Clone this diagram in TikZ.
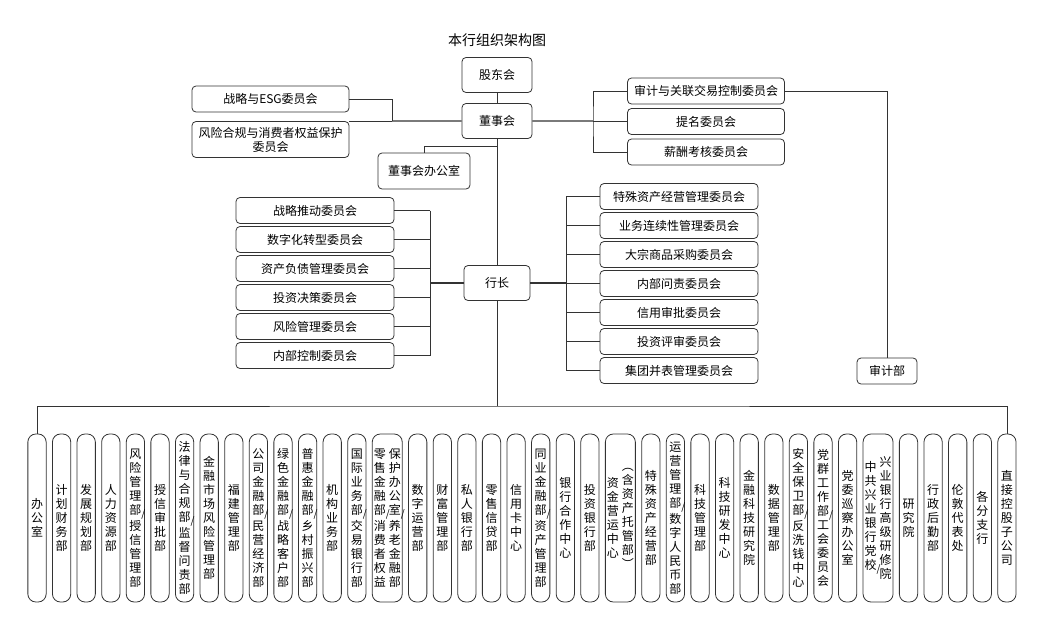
\documentclass[tikz,border=0pt]{standalone}
\usepackage{fontspec}
\newfontfamily\cjk{Noto Sans CJK SC}
\XeTeXlinebreaklocale "zh"
\XeTeXlinebreakskip = 0pt
\usepackage{tikz}
\usetikzlibrary{positioning}
% 竖排文字中的斜线
\newcommand\xg{\rlap{\raisebox{-3pt}{\fontsize{10}{10}\selectfont/}}\hspace{0pt}}

\begin{document}
\begin{tikzpicture}[
    x=1pt, y=-1pt,
    node distance=5.5pt,%部门之间的距离
    box/.style={
        % 外框
        rectangle,
        draw=black!80,
        line width=0.8pt,
        rounded corners=4pt,
        minimum height=26pt,
        inner sep=1pt,
        % 字体
        font=\cjk\fontsize{12}{14}\selectfont},
    dept/.style={box, rounded corners=8pt, minimum width=18.3pt, minimum height=168pt,
        text width=12pt, align=center, inner sep=0pt},
    deptw/.style={dept, text width=28pt, minimum width=30pt},
    link/.style={draw=black!80, line width=0.7pt},
    mainlink/.style={draw=black!80, line width=1.4pt}]
  \useasboundingbox (0,0) rectangle (1044,624);
  % 董事会一层
  \node (title) at (497,40) [font=\cjk\fontsize{14}{16}\selectfont] {本行组织架构图};
  \node (gdh) [box, minimum width=70pt, minimum height=35pt] at (497,75) {股东会};
  \node (dsh) [box, minimum width=70pt, minimum height=35pt, below=10.2pt of gdh] {董事会};
  \node (esg) [box, minimum width=157pt] at (270.5,99) {战略与ESG委员会};
  \node (fxhg) [box, minimum width=157pt, minimum height=36pt, align=center] at (270.5,139.5) {风险合规与消费者权益保护\\委员会};
  \node (dshbgs) [box, minimum width=92pt, minimum height=36pt] at (424,171) {董事会办公室};
  \node (sj) [box, minimum width=157pt] at (706,91) {审计与关联交易控制委员会};
  \node (tm) [box, minimum width=157pt, below=3.7pt of sj] {提名委员会};
  \node (xc) [box, minimum width=157pt, below=3.7pt of tm] {薪酬考核委员会};
  \node (sjb) [box, minimum width=60pt] at (887,371) {审计部};
  % 行长一层
  \node (hz) [box, minimum width=66pt, minimum height=35pt] at (497,283) {行长};
  \node (zltd) [box, minimum width=158pt] at (315,210.5) {战略推动委员会};
  \node (szh) [box, minimum width=158pt, below=2.2pt of zltd] {数字化转型委员会};
  \node (zcfz) [box, minimum width=158pt, below=2.2pt of szh] {资产负债管理委员会};
  \node (tzjc) [box, minimum width=158pt, below=2.2pt of zcfz] {投资决策委员会};
  \node (fxgl) [box, minimum width=158pt, below=2.2pt of tzjc] {风险管理委员会};
  \node (nbkz) [box, minimum width=158pt, below=2.2pt of fxgl] {内部控制委员会};
  \node (tszc) [box, minimum width=158pt] at (679,196.5) {特殊资产经营管理委员会};
  \node (ywlx) [box, minimum width=158pt, below=2.2pt of tszc] {业务连续性管理委员会};
  \node (dzsp) [box, minimum width=158pt, below=2.2pt of ywlx] {大宗商品采购委员会};
  \node (nbwz) [box, minimum width=158pt, below=2.2pt of dzsp] {内部问责委员会};
  \node (xysp) [box, minimum width=158pt, below=2.2pt of nbwz] {信用审批委员会};
  \node (tzps) [box, minimum width=158pt, below=2.2pt of xysp] {投资评审委员会};
  \node (jtbb) [box, minimum width=158pt, below=2.2pt of tzps] {集团并表管理委员会};
  % 部门
  \node (bgs) [dept] at (37,518) {办公室};
  \node (jhcw) [dept, right=of bgs] {计划财务部};
  \node (fzgh) [dept, right=of jhcw] {发展规划部};
  \node (rlzy) [dept, right=of fzgh] {人力资源部};
  \node (fxglb) [dept, right=of rlzy] {风险管理部\xg 授信管理部};
  \node (sxsp) [dept, right=of fxglb] {授信审批部};
  \node (flhg) [dept, right=of sxsp] {法律与合规部\xg 监督问责部};
  \node (jrsc) [dept, right=of flhg] {金融市场风险管理部};
  \node (fjgl) [dept, right=of jrsc] {福建管理部};
  \node (gsjr) [dept, right=of fjgl] {公司金融部\xg 民营经济部};
  \node (lsjr) [dept, right=of gsjr] {绿色金融部\xg 战略客户部};
  \node (phjr) [dept, right=of lsjr] {普惠金融部\xg 乡村振兴部};
  \node (jgyw) [dept, right=of phjr] {机构业务部};
  \node (gjyw) [dept, right=of jgyw] {国际业务部\xg 交易银行部};
  \node (lsjrb) [deptw, right=of gjyw] {\parbox[c]{12pt}{\centering 零售金融部\xg 消费者权益}\hspace{3pt}\parbox[c]{12pt}{\centering 保护办公室\xg 养老金融部}};
  \node (szyy) [dept, right=of lsjrb] {数字运营部};
  \node (cfgl) [dept, right=of szyy] {财富管理部};
  \node (sryh) [dept, right=of cfgl] {私人银行部};
  \node (lsxd) [dept, right=of sryh] {零售信贷部};
  \node (xyk) [dept, right=of lsxd] {信用卡中心};
  \node (tyjr) [dept, right=of xyk] {同业金融部\xg 资产管理部};
  \node (yhhz) [dept, right=of tyjr] {银行合作中心};
  \node (tzyh) [dept, right=of yhhz] {投资银行部};
  \node (zjyy) [deptw, right=of tzyh] {\parbox[c]{12pt}{\centering 资金营运中心}\hspace{3pt}\parbox[c]{12pt}{\centering ︵\\含\\资\\产\\托\\管\\部\\︶}};
  \node (tszcb) [dept, right=of zjyy] {特殊资产经营部};
  \node (yygl) [dept, right=of tszcb] {运营管理部\xg 数字人民币部};
  \node (kjgl) [dept, right=of yygl] {科技管理部};
  \node (kjyf) [dept, right=of kjgl] {科技研发中心};
  \node (jrkj) [dept, right=of kjyf] {金融科技研究院};
  \node (sjgl) [dept, right=of jrkj] {数据管理部};
  \node (aqbw) [dept, right=of sjgl] {安全保卫部\xg 反洗钱中心};
  \node (dqgz) [dept, right=of aqbw] {党群工作部\xg 工会委员会};
  \node (dwxc) [dept, right=of dqgz] {党委巡察办公室};
  \node (yxy) [deptw, right=of dwxc] {\parbox[c]{12pt}{\centering 中共兴业银行党校\xg}\hspace{3pt}\parbox[c]{12pt}{\centering 兴业银行高级研修院}};
  \node (yjy) [dept, right=of yxy] {研究院};
  \node (xzhq) [dept, right=of yjy] {行政后勤部};
  \node (ldd) [dept, right=of xzhq] {伦敦代表处};
  \node (gfzh) [dept, right=of ldd] {各分支行};
  \node (zjkg) [dept, right=of gfzh] {直接控股子公司};
  % 连线
  \coordinate (lj) at (392,121);
  \coordinate (rj) at (593,121);
  \coordinate (bgsj) at (497,146);
  \coordinate (lb) at (430,283);
  \coordinate (rb) at (566,283);
  \coordinate (bus) at (497,406);
  \draw[link] (gdh) -- (dsh);
  \draw[link] (dsh) -- (hz);
  \draw[link] (dshbgs.north) |- (bgsj);
  \draw[mainlink] (dsh.west) -- (lj);
  \draw[link] (esg.east) -| (lj);
  \draw[link] (lj) -- (lj -| fxhg.east);
  \draw[mainlink] (dsh.east) -- (rj);
  \draw[link] (rj) -- (rj -| tm.west);
  \draw[link] (sj.west) -| (rj) |- (xc.west);
  \draw[link] (sj.east) -| (sjb.north);
  \draw[mainlink] (hz.west) -- (lb);
  \foreach \n in {zltd,szh,zcfz,tzjc,fxgl,nbkz}
    \draw[link] (\n.east) -- (\n.east -| lb);
  \draw[link] (zltd.east -| lb) -- (nbkz.east -| lb);
  \draw[mainlink] (hz.east) -- (rb);
  \foreach \n in {tszc,ywlx,dzsp,nbwz,xysp,tzps,jtbb}
    \draw[link] (\n.west) -- (\n.west -| rb);
  \draw[link] (tszc.west -| rb) -- (jtbb.west -| rb);
  \draw[link] (hz.south) -- (bus);
  \draw[link] (bgs.north) |- (bus) -| (zjkg.north);
\end{tikzpicture}
\end{document}
